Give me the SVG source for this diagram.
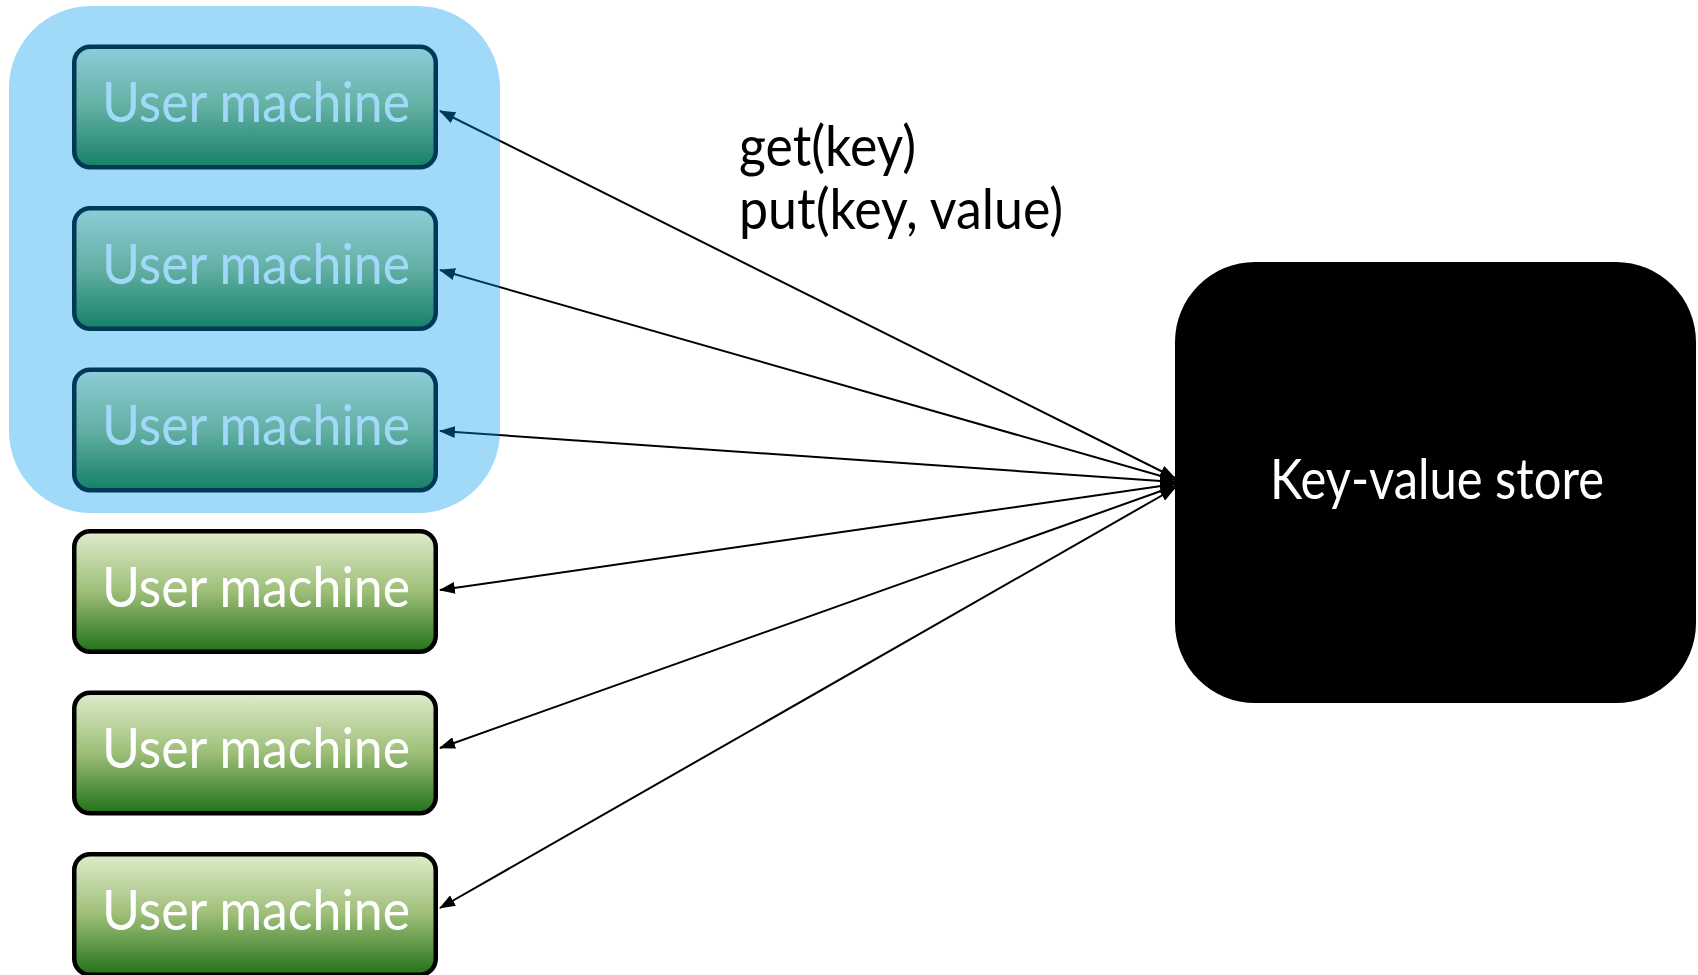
<svg xmlns="http://www.w3.org/2000/svg" width="1698" height="975" viewBox="0 0 1698 975">
  <defs>
    <linearGradient id="gGreen" x1="0" y1="0" x2="0" y2="1">
      <stop offset="0" stop-color="#DFECCC"/>
      <stop offset="0.5" stop-color="#9DBE78"/>
      <stop offset="1" stop-color="#227219"/>
    </linearGradient>
    <marker id="ah" markerUnits="userSpaceOnUse" markerWidth="16" markerHeight="12" refX="15" refY="6" orient="auto-start-reverse" viewBox="0 0 16 12">
      <path d="M0,0 L16,6 L0,12 Z" fill="#000"/>
    </marker>
    <style>
      .um rect { fill: url(#gGreen); stroke: #000; stroke-width: 4.5; }
      .um text { font-family: "Lato", "Open Sans", sans-serif; font-size: 57px; fill: #FFFFFF; text-anchor: middle; }
      .conn line { stroke: #000; stroke-width: 2; marker-start: url(#ah); marker-end: url(#ah); }
      .lbl { font-family: "Lato", "Open Sans", sans-serif; font-size: 56px; fill: #000; }
    </style>
  </defs>
  <rect width="1698" height="975" fill="#FFFFFF"/>

  <g id="connectors" class="conn">
    <line x1="440" y1="111" x2="1175" y2="478"/>
    <line x1="440" y1="270" x2="1175" y2="480"/>
    <line x1="440" y1="431" x2="1175" y2="482"/>
    <line x1="440" y1="590" x2="1175" y2="484"/>
    <line x1="440" y1="748" x2="1175" y2="486"/>
    <line x1="440" y1="908" x2="1175" y2="488"/>
  </g>

  <g id="label-ops">
    <text class="lbl" x="739" y="166" textLength="177" lengthAdjust="spacingAndGlyphs">get(key)</text>
    <text class="lbl" x="739" y="229" textLength="324" lengthAdjust="spacingAndGlyphs">put(key, value)</text>
  </g>

  <g id="user1" class="um">
    <rect x="74.25" y="46.75" width="361.5" height="120.5" rx="16"/>
    <text x="256" y="122" textLength="308" lengthAdjust="spacingAndGlyphs">User machine</text>
  </g>
  <g id="user2" class="um">
    <rect x="74.25" y="208.25" width="361.5" height="120.5" rx="16"/>
    <text x="256" y="284" textLength="308" lengthAdjust="spacingAndGlyphs">User machine</text>
  </g>
  <g id="user3" class="um">
    <rect x="74.25" y="369.75" width="361.5" height="120.5" rx="16"/>
    <text x="256" y="445" textLength="308" lengthAdjust="spacingAndGlyphs">User machine</text>
  </g>
  <g id="user4" class="um">
    <rect x="74.25" y="531.25" width="361.5" height="120.5" rx="16"/>
    <text x="256" y="607" textLength="308" lengthAdjust="spacingAndGlyphs">User machine</text>
  </g>
  <g id="user5" class="um">
    <rect x="74.25" y="692.75" width="361.5" height="120.5" rx="16"/>
    <text x="256" y="768" textLength="308" lengthAdjust="spacingAndGlyphs">User machine</text>
  </g>
  <g id="user6" class="um">
    <rect x="74.25" y="854.25" width="361.5" height="120.5" rx="16"/>
    <text x="256" y="930" textLength="308" lengthAdjust="spacingAndGlyphs">User machine</text>
  </g>

  <g id="highlight-group">
    <rect x="9" y="6" width="491" height="507" rx="82" fill="#0099F0" fill-opacity="0.37"/>
  </g>

  <g id="kv-store">
    <rect x="1175" y="262" width="521" height="441" rx="80" fill="#000"/>
    <text x="1437" y="499" font-family="Lato, 'Open Sans', sans-serif" font-size="57" fill="#FFFFFF" text-anchor="middle" textLength="334" lengthAdjust="spacingAndGlyphs">Key-value store</text>
  </g>
</svg>
